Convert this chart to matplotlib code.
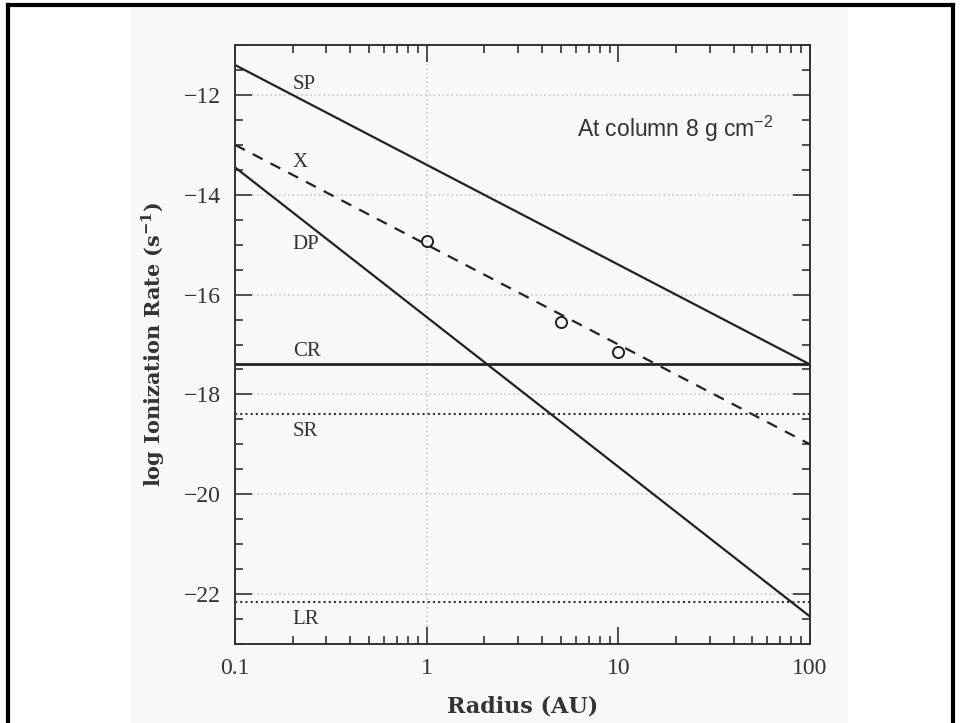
import matplotlib
matplotlib.use('Agg')
import matplotlib.pyplot as plt
from matplotlib.lines import Line2D
from matplotlib.patches import Rectangle
from matplotlib.ticker import LogLocator, MultipleLocator, FixedLocator, FixedFormatter

# data
radius_ends = [0.1, 100]
sp_rate = [-11.4, -17.4]     # stellar protons
x_rate = [-13.0, -19.0]      # X-rays (dashed)
dp_rate = [-13.45, -22.45]   # deep protons
cr_rate = -17.4              # cosmic rays
sr_rate = -18.4              # short-lived radionuclides
lr_rate = -22.15             # long-lived radionuclides
obs_radius = [1, 5, 10]
obs_rate = [-14.92, -16.55, -17.15]

line_labels = ['SP', 'X', 'DP', 'CR', 'SR', 'LR']
label_rate = [-11.8, -13.35, -15.0, -17.15, -18.75, -22.5]

xticks = [0.1, 1, 10, 100]
xticklabels = ['0.1', '1', '10', '100']
yticks = [-12, -14, -16, -18, -20, -22]

serif = 'Liberation Serif'
plt.rcParams['mathtext.fontset'] = 'dejavusans'

fig = plt.figure(figsize=(9.61, 7.23), dpi=100)
fig.patch.set_facecolor('white')

# light grey panel behind the plot and the black frame of the picture
fig.add_artist(Rectangle((130/961, 0), (848-130)/961, 1 - 8/723,
                         transform=fig.transFigure, facecolor='#f8f8f8',
                         edgecolor='none', zorder=-5))
for xs, ys in [([8/961, 8/961], [0, 1-5/723]),
               ([8/961, 953/961], [1-5/723, 1-5/723]),
               ([953/961, 953/961], [0, 1-5/723])]:
    fig.add_artist(Line2D(xs, ys, color='black', lw=3, transform=fig.transFigure))

ax = fig.add_axes([235/961, 1-644/723, (810-235)/961, (644-45)/723])
ax.set_facecolor('#f8f8f8')
ax.set_xscale('log')
ax.set_xlim(0.1, 100)
ax.set_ylim(-23, -11)

# reference grid
for y in yticks:
    ax.axhline(y, color='#c8c8c8', ls=':', lw=1.2, zorder=1)
ax.axvline(1, color='#c8c8c8', ls=':', lw=1.2, zorder=1)

ax.plot(radius_ends, sp_rate, color='#222222', lw=1.6)
ax.plot(radius_ends, x_rate, color='#222222', lw=1.6, ls=(0, (5, 4)))
ax.plot(radius_ends, dp_rate, color='#222222', lw=1.6)
ax.axhline(cr_rate, color='#222222', lw=2.0)
ax.axhline(sr_rate, color='#333333', lw=1.5, ls=(0, (1, 1.5)))
ax.axhline(lr_rate, color='#333333', lw=1.5, ls=(0, (1, 1.5)))
ax.plot(obs_radius, obs_rate, 'o', mfc='none', mec='#222222', ms=8, mew=1.4)

for lab, y in zip(line_labels, label_rate):
    ax.text(0.2, y, lab, family=serif, fontsize=15, color='#333333', va='center')

ax.text(6.1, -12.68, r'At column 8 g cm$^{\mathregular{-2}}$', family='Liberation Sans',
        fontsize=16.5, color='#333333', va='center')

# ticks
ax.xaxis.set_major_locator(FixedLocator(xticks))
ax.xaxis.set_major_formatter(FixedFormatter(xticklabels))
ax.xaxis.set_minor_locator(LogLocator(base=10, subs=range(2, 10)))
ax.yaxis.set_major_locator(FixedLocator(yticks))
ax.yaxis.set_minor_locator(MultipleLocator(0.5))
ax.tick_params(which='both', direction='in', top=True, right=True, color='#333333')
ax.tick_params(which='major', length=12, width=1.2, labelsize=17, pad=10, labelcolor='#333333')
ax.tick_params(which='minor', length=6, width=1.2)
for lab in ax.get_xticklabels() + ax.get_yticklabels():
    lab.set_family(serif)
for sp in ax.spines.values():
    sp.set_color('#333333')
    sp.set_linewidth(1.4)

ax.set_xlabel('Radius (AU)', family='DejaVu Serif', fontweight='bold', fontsize=16,
              color='#333333', labelpad=12)
ax.set_ylabel(r'log Ionization Rate (s$^{\mathregular{-1}}$)', family='DejaVu Serif',
              fontweight='bold', fontsize=15, color='#333333', labelpad=12)

fig.savefig('out.png', dpi=100)
